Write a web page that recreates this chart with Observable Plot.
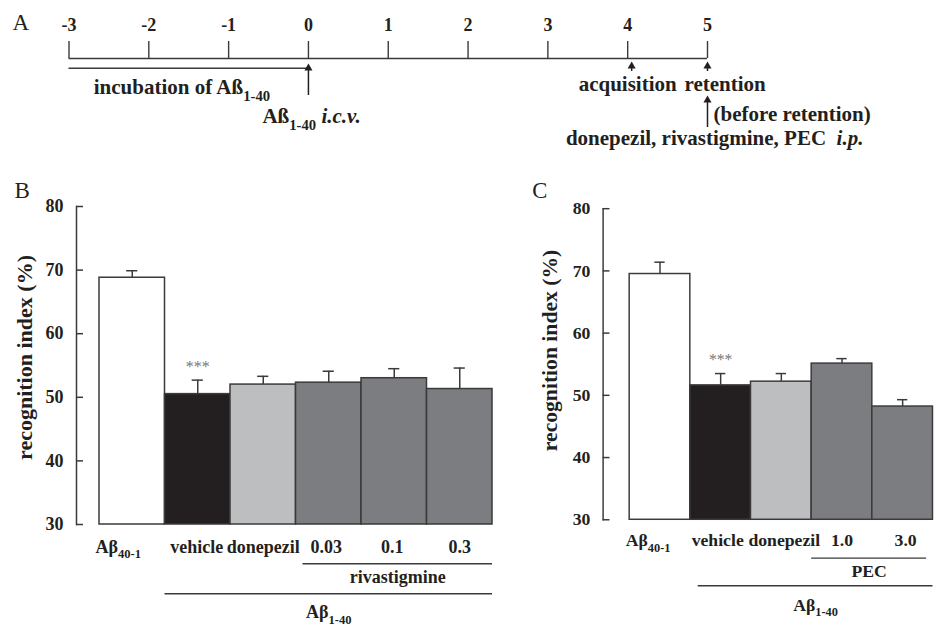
<!DOCTYPE html>
<html>
<head>
<meta charset="utf-8">
<script src="https://cdn.jsdelivr.net/npm/d3@7"></script>
<script src="https://cdn.jsdelivr.net/npm/@observablehq/plot@0.6"></script>
<style>
  html, body { margin: 0; padding: 0; background: #fff; overflow: hidden; }
  #root { position: relative; width: 938px; height: 631px; overflow: hidden; background: #fff; }
  .panel { position: absolute; }
  .panel svg { overflow: visible; }
</style>
</head>
<body>
<div id="root">
  <div class="panel" id="pa" style="left:0;top:0"></div>
  <div class="panel" id="pb" style="left:0;top:160px"></div>
  <div class="panel" id="pc" style="left:520px;top:160px"></div>
</div>
<script>
// ---------------- DATA ----------------
// Panel A: timeline (days)
const days = [-3, -2, -1, 0, 1, 2, 3, 4, 5];
const timelineEvents = ["Aß_{1-40} §{i.c.v.}", "acquisition", "retention", "(before retention)", "donepezil, rivastigmine, PEC  §{i.p.}"];
const incubationLabel = "incubation of Aß_{1-40}";

// Panel B
const categoriesB = ["Aβ_{40-1}", "vehicle", "donepezil", "0.03", "0.1", "0.3"];
const treatmentB = ["Aβ40-1", "vehicle", "donepezil", "rivastigmine", "rivastigmine", "rivastigmine"];
const meansB = [68.8, 50.5, 52.0, 52.3, 53.0, 51.3];
const semB = [1.1, 2.2, 1.3, 1.8, 1.5, 3.3];
const sigB = ["", "***", "", "", "", ""];

// Panel C
const categoriesC = ["Aβ_{40-1}", "vehicle", "donepezil", "1.0", "3.0"];
const treatmentC = ["Aβ40-1", "vehicle", "donepezil", "PEC", "PEC"];
const meansC = [69.5, 51.6, 52.2, 55.1, 48.2];
const semC = [1.9, 1.9, 1.3, 0.8, 1.1];
const sigC = ["", "***", "", "", ""];

const yTicks = [30, 40, 50, 60, 70, 80];
const yTitle = "recognition index (%)";
const treatments = ["Aβ40-1", "vehicle", "donepezil", "rivastigmine", "PEC"];
const treatmentColors = ["#ffffff", "#231f20", "#bcbec0", "#7c7d80", "#7c7d80"];

// ---------------- HELPERS ----------------
const INK = "#231f20";
const LINE = "#3a3a3a";
const FONT = "'Liberation Serif', 'Times New Roman', serif";
const SVGNS = "http://www.w3.org/2000/svg";

function richify(svg) {
  svg.querySelectorAll("text").forEach(t => {
    const s = t.textContent;
    if (!s.includes("_{") && !s.includes("§{")) return;
    while (t.firstChild) t.removeChild(t.firstChild);
    const re = /_\{([^}]*)\}|§\{([^}]*)\}|([^_§]+)/g;
    let m, shifted = false;
    while ((m = re.exec(s))) {
      const ts = document.createElementNS(SVGNS, "tspan");
      if (m[1] != null) {
        ts.textContent = m[1];
        ts.setAttribute("font-size", "70%");
        ts.setAttribute("dy", "0.43em");
        shifted = true;
      } else {
        ts.textContent = m[2] != null ? m[2] : m[3];
        if (m[2] != null) ts.setAttribute("font-style", "italic");
        if (shifted) { ts.setAttribute("dy", "-0.3em"); shifted = false; }
      }
      t.appendChild(ts);
    }
  });
  return svg;
}

// ---------------- PANEL A ----------------
{
  const ev = timelineEvents;
  const arrows = [
    {day: 0, tail: 95, tip: 63},
    {day: 4.05, tail: 71, tip: 61},
    {day: 5, tail: 71, tip: 61},
    {day: 5, tail: 127, tip: 95}
  ];
  const labels = [
    {day: -1.585, y: 87, text: incubationLabel},
    {day: 0.04, y: 116, text: ev[0]},
    {day: 4.0, y: 84, text: ev[1]},
    {day: 5.22, y: 84, text: ev[2]},
    {day: 6.06, y: 114, text: ev[3]},
    {day: 5.09, y: 138, text: ev[4]}
  ];
  const svg = Plot.plot({
    width: 938, height: 160, margin: 0,
    x: {domain: [-3, 5], range: [68.5, 707]},
    y: {domain: [0, 160], range: [0, 160]},
    axis: null,
    style: {fontFamily: FONT, color: INK, background: "transparent", overflow: "visible"},
    marks: [
      Plot.text(["A"], {frameAnchor: "top-left", dx: 12, dy: 29, lineAnchor: "bottom", textAnchor: "start", fontSize: 23, fill: INK}),
      Plot.ruleY([58], {x1: -3, x2: 5, stroke: LINE, strokeWidth: 1.4}),
      Plot.ruleX(days, {x: d => d, y1: 41, y2: 58, stroke: LINE, strokeWidth: 1.4}),
      Plot.text(days, {x: d => d, y: 25, text: d => String(d), fontSize: 18, fontWeight: "bold", fill: INK}),
      Plot.ruleY([67.7], {x1: -3, x2: 0, stroke: LINE, strokeWidth: 1.4}),
      Plot.ruleX(arrows, {x: "day", y1: "tail", y2: d => d.tip + 4, stroke: INK, strokeWidth: 1.5}),
      Plot.dot(arrows, {x: "day", y: "tip", symbol: "triangle", r: 3, fill: INK, stroke: "none", dy: 4.67}),
      Plot.text(labels, {x: "day", y: "y", text: "text", fontSize: 21, fontWeight: "bold", fill: INK})
    ]
  });
  document.getElementById("pa").appendChild(richify(svg));
}

// ---------------- PANELS B & C ----------------
function barPanel({container, letter, categories, treatment, means, sem, sig, groups,
                   width, height, marginLeft, marginTop, marginBottom, xRange,
                   labelDy, labelNudge, starDy, titleDx, titleDy, letterDx, letterDy}) {
  const data = categories.map((c, i) => ({i, label: c, kind: treatment[i], mean: means[i], sem: sem[i], sig: sig[i]}));
  const base = yTicks[0];
  const marks = [
    Plot.text([letter], {frameAnchor: "top-left", dx: letterDx, dy: letterDy, lineAnchor: "bottom", textAnchor: "start", fontSize: 23, fontWeight: "normal", fill: INK}),
    Plot.frame({anchor: "left", stroke: LINE, strokeWidth: 1.5}),
    Plot.tickY(yTicks, {y: d => d, stroke: LINE, strokeWidth: 1.5, insetRight: width - marginLeft - 5 - 7}),
    Plot.axisY({ticks: yTicks, tickSize: 0, tickPadding: 13, fontSize: 18, fontWeight: "bold", label: null, tickFormat: d => String(d)}),
    Plot.text([yTitle], {frameAnchor: "left", textAnchor: "middle", lineAnchor: "middle", rotate: -90, dx: titleDx, dy: titleDy, fontSize: 22, fontWeight: "bold", fill: INK}),
    Plot.rectY(data, {x1: "i", x2: d => d.i + 1, y1: base, y2: "mean", fill: "kind", stroke: LINE, strokeWidth: 1.5}),
    Plot.ruleX(data, {x: d => d.i + 0.5, y1: "mean", y2: d => d.mean + d.sem, stroke: LINE, strokeWidth: 1.5}),
    Plot.ruleY(data, {y: d => d.mean + d.sem, x1: d => d.i + 0.5 - 0.085, x2: d => d.i + 0.5 + 0.085, stroke: LINE, strokeWidth: 1.5}),
    Plot.text(data.filter(d => d.sig), {x: d => d.i + 0.5, y: d => d.mean + d.sem, text: "sig", dy: starDy, fontSize: 16, fontWeight: "normal", fill: "#777777"}),
    Plot.text(data.filter(d => d.i === 0), {x: "i", y: () => base, text: "label", dy: labelDy, dx: -4, textAnchor: "start", fontSize: 18, fontWeight: "bold", fill: INK})
  ];
  for (const d of data.filter(d => d.i > 0)) {
    marks.push(Plot.text([d], {x: d => d.i + 0.5, y: () => base, text: "label", dy: labelDy, dx: labelNudge[d.i] || 0, fontSize: 18, fontWeight: "bold", fill: INK}));
  }
  for (const g of groups) {
    marks.push(Plot.ruleY([g], {x1: "from", x2: "to", y: () => base, dy: g.lineDy, insetLeft: g.insetLeft || 0, insetRight: g.insetRight || 0, stroke: LINE, strokeWidth: 1.5}));
    marks.push(Plot.text([g], {x: d => (d.from + d.to) / 2, y: () => base, dx: ((g.insetLeft || 0) - (g.insetRight || 0)) / 2, text: "label", dy: g.textDy, fontSize: 18, fontWeight: "bold", fill: INK}));
  }
  const svg = Plot.plot({
    width, height, marginLeft, marginTop, marginBottom, marginRight: 5,
    x: {domain: [0, categories.length], range: xRange, axis: null},
    y: {domain: [30, 80], axis: null},
    color: {domain: treatments, range: treatmentColors},
    style: {fontFamily: FONT, color: INK, background: "transparent", overflow: "visible"},
    marks
  });
  document.getElementById(container).appendChild(richify(svg));
}

barPanel({
  container: "pb", letter: "B",
  categories: categoriesB, treatment: treatmentB, means: meansB, sem: semB, sig: sigB,
  groups: [
    {label: "rivastigmine", from: 3, to: 6, insetLeft: 7, lineDy: 39.3, textDy: 53},
    {label: "Aβ_{1-40}", from: 1, to: 6, lineDy: 69.3, textDy: 88}
  ],
  width: 510, height: 471, marginLeft: 76, marginTop: 46, marginBottom: 107, xRange: [99, 492],
  labelDy: 22.5, labelNudge: [0, -1, 0, -2.5, -2, 0], starDy: -13, titleDx: -52, titleDy: -8, letterDx: -62, letterDy: -9
});

barPanel({
  container: "pc", letter: "C",
  categories: categoriesC, treatment: treatmentC, means: meansC, sem: semC, sig: sigC,
  groups: [
    {label: "PEC", from: 3, to: 5, insetRight: 6.5, lineDy: 39, textDy: 52.7},
    {label: "Aβ_{1-40}", from: 1, to: 5, insetLeft: 8, lineDy: 67, textDy: 87}
  ],
  width: 425, height: 471, marginLeft: 84, marginTop: 49, marginBottom: 105.7, xRange: [111, 419.4],
  labelDy: 21.4, labelNudge: [0, -3, 3, 0, 3], starDy: -14, titleDx: -54, titleDy: -14, letterDx: -72, letterDy: -11
});
</script>
</body>
</html>
